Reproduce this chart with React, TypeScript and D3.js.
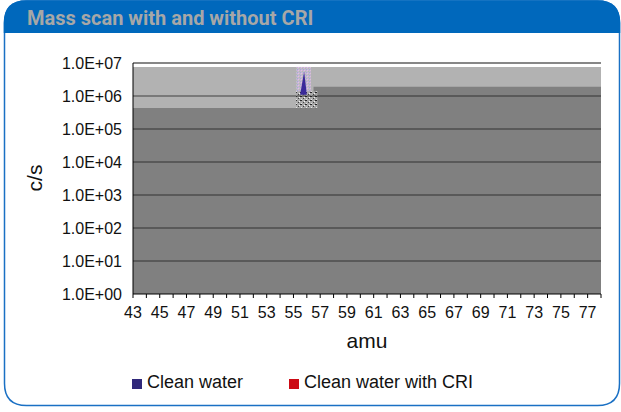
import React, { useEffect, useRef } from "react";
import * as d3 from "d3";

// x categories (amu)
const amu = [
  43, 44, 45, 46, 47, 48, 49, 50, 51, 52, 53, 54, 55, 56, 57, 58, 59, 60,
  61, 62, 63, 64, 65, 66, 67, 68, 69, 70, 71, 72, 73, 74, 75, 76, 77, 78,
];
const amuLabels = [43, 45, 47, 49, 51, 53, 55, 57, 59, 61, 63, 65, 67, 69, 71, 73, 75, 77];

// upper (light grey) level, c/s
const upperLevel = [
  7.6e6, 7.6e6, 7.6e6, 7.6e6, 7.6e6, 7.6e6, 7.6e6, 7.6e6, 7.6e6, 7.6e6, 7.6e6, 7.6e6,
  7.6e6, 7.6e6, 7.6e6, 7.6e6, 7.6e6, 7.6e6, 7.6e6, 7.6e6, 7.6e6, 7.6e6, 7.6e6, 7.6e6,
  7.6e6, 7.6e6, 7.6e6, 7.6e6, 7.6e6, 7.6e6, 7.6e6, 7.6e6, 7.6e6, 7.6e6, 7.6e6, 7.6e6,
];
// lower (dark grey) level, c/s
const lowerLevel = [
  4.3e5, 4.3e5, 4.3e5, 4.3e5, 4.3e5, 4.3e5, 4.3e5, 4.3e5, 4.3e5, 4.3e5, 4.3e5, 4.3e5,
  4.3e5, 4.3e5, 1.9e6, 1.9e6, 1.9e6, 1.9e6, 1.9e6, 1.9e6, 1.9e6, 1.9e6, 1.9e6, 1.9e6,
  1.9e6, 1.9e6, 1.9e6, 1.9e6, 1.9e6, 1.9e6, 1.9e6, 1.9e6, 1.9e6, 1.9e6, 1.9e6, 1.9e6,
];
// small clean water peak near 56 amu
const peakAmu = [55.5, 55.8, 56.0];
const peakValues = [1.1e6, 5.5e6, 1.1e6];

const yTicks = [1e0, 1e1, 1e2, 1e3, 1e4, 1e5, 1e6, 1e7];
const legendItems = ["Clean water", "Clean water with CRI"];
const legendColors = ["#30287a", "#cc0a14"];

export default function App() {
  const ref = useRef<SVGSVGElement>(null);

  useEffect(() => {
    const svg = d3.select(ref.current);
    svg.selectAll("*").remove();

    const fx0 = 4.5, fx1 = 619.5, fy0 = 1, fy1 = 405.5, r = 22, barH = 33;
    const blue = "#0068bc";
    const font = "'Liberation Sans', Arial, sans-serif";

    // frame
    svg.append("path")
      .attr("d", `M${fx0},${fy0 + r} Q${fx0},${fy0} ${fx0 + r},${fy0} L${fx1 - r},${fy0} Q${fx1},${fy0} ${fx1},${fy0 + r} L${fx1},${fy1 - r} Q${fx1},${fy1} ${fx1 - r},${fy1} L${fx0 + r},${fy1} Q${fx0},${fy1} ${fx0},${fy1 - r} Z`)
      .attr("fill", "#fff")
      .attr("stroke", "#1a70c4")
      .attr("stroke-width", 1.5);
    svg.append("path")
      .attr("d", `M${fx0 - 0.75},${barH} L${fx0 - 0.75},${fy0 + r} Q${fx0 - 0.75},${fy0 - 0.75} ${fx0 + r},${fy0 - 0.75} L${fx1 - r},${fy0 - 0.75} Q${fx1 + 0.75},${fy0 - 0.75} ${fx1 + 0.75},${fy0 + r} L${fx1 + 0.75},${barH} Z`)
      .attr("fill", blue);
    svg.append("text")
      .attr("x", 27)
      .attr("y", 25)
      .attr("font-family", "Roboto, 'Liberation Sans', sans-serif")
      .attr("font-weight", 700)
      .attr("font-size", "20px")
      .attr("fill", "#a7a7a7")
      .text("Mass scan with and without CRI");

    const left = 133, right = 601, top = 63, bottom = 294;

    const x = d3.scaleLinear().domain([amu[0], amu[amu.length - 1]]).range([left, right]);
    const y = d3.scaleLog().domain([1, 1e7]).range([bottom, top]);

    const g = svg.append("g");

    const levelArea = (vals: number[]) =>
      d3.area<number>()
        .curve(d3.curveStep)
        .x((d, i) => x(amu[i]))
        .y0(bottom)
        .y1((d) => y(d))(vals);

    g.append("path").attr("d", levelArea(upperLevel)).attr("fill", "#b2b2b2");
    g.append("path").attr("d", levelArea(lowerLevel)).attr("fill", "#808080");

    // noisy rendering around the peak
    const defs = svg.append("defs");
    const pat = defs.append("pattern")
      .attr("id", "noise")
      .attr("width", 5).attr("height", 4)
      .attr("patternUnits", "userSpaceOnUse");
    pat.append("rect").attr("width", 5).attr("height", 4).attr("fill", "#a8a8a8");
    pat.append("rect").attr("width", 2).attr("height", 1).attr("fill", "#1a1a1a");
    pat.append("rect").attr("x", 3).attr("y", 2).attr("width", 1).attr("height", 1).attr("fill", "#333");
    pat.append("rect").attr("x", 1).attr("y", 3).attr("width", 1).attr("height", 1).attr("fill", "#eee");
    pat.append("rect").attr("x", 4).attr("y", 1).attr("width", 1).attr("height", 1).attr("fill", "#fff");
    const pat2 = defs.append("pattern")
      .attr("id", "noise2")
      .attr("width", 3).attr("height", 3)
      .attr("patternUnits", "userSpaceOnUse");
    pat2.append("rect").attr("width", 3).attr("height", 3).attr("fill", "#c6b4d4");
    pat2.append("rect").attr("width", 1).attr("height", 1).attr("fill", "#a0b4cc");
    pat2.append("rect").attr("x", 1).attr("y", 1).attr("width", 1).attr("height", 1).attr("fill", "#e0c4dc");
    pat2.append("rect").attr("x", 2).attr("y", 2).attr("width", 1).attr("height", 1).attr("fill", "#b0c4a8");

    g.append("rect")
      .attr("x", x(55.2)).attr("y", y(upperLevel[12]))
      .attr("width", x(56.3) - x(55.2))
      .attr("height", y(1.2e6) - y(upperLevel[12]))
      .attr("fill", "url(#noise2)");
    g.append("rect")
      .attr("x", x(55.2)).attr("y", y(1.4e6))
      .attr("width", x(56.8) - x(55.2))
      .attr("height", y(lowerLevel[0]) - y(1.4e6))
      .attr("fill", "url(#noise)")
      .attr("opacity", 0.9);

    const peak = d3.area<number>()
      .x((d, i) => x(peakAmu[i]))
      .y0(y(peakValues[0]))
      .y1((d) => y(d));
    g.append("path").attr("d", peak(peakValues)).attr("fill", "#3a2a9a");

    // gridlines
    g.selectAll(".grid")
      .data(yTicks.slice(1))
      .enter()
      .append("line")
      .attr("x1", left).attr("x2", right)
      .attr("y1", (d) => y(d)).attr("y2", (d) => y(d))
      .attr("stroke", "#111")
      .attr("stroke-opacity", (d) => (d === 1e7 ? 1 : 0.7))
      .attr("stroke-width", 1.2);

    // y axis
    g.append("line")
      .attr("x1", left).attr("x2", left).attr("y1", top).attr("y2", bottom)
      .attr("stroke", "#000");
    g.selectAll(".ylab")
      .data(yTicks)
      .enter()
      .append("text")
      .attr("x", left - 11)
      .attr("y", (d) => y(d))
      .attr("dy", "0.36em")
      .attr("text-anchor", "end")
      .attr("font-family", font)
      .attr("font-size", "16px")
      .attr("fill", "#111")
      .text((d) => d.toExponential(1).replace("e", "E").replace(/E([+-])(\d)$/, "E$10$2"));

    // x axis
    g.append("line")
      .attr("x1", left).attr("x2", right).attr("y1", bottom).attr("y2", bottom)
      .attr("stroke", "#000");
    g.selectAll(".xtick")
      .data(amu)
      .enter()
      .append("line")
      .attr("x1", (d) => x(d)).attr("x2", (d) => x(d))
      .attr("y1", bottom).attr("y2", bottom + 4)
      .attr("stroke", "#000");
    g.selectAll(".xlab")
      .data(amuLabels)
      .enter()
      .append("text")
      .attr("x", (d) => x(d))
      .attr("y", bottom + 24)
      .attr("text-anchor", "middle")
      .attr("font-family", font)
      .attr("font-size", "16px")
      .attr("fill", "#111")
      .text((d) => String(d));

    // axis titles
    svg.append("text")
      .attr("x", (left + right) / 2)
      .attr("y", 348)
      .attr("text-anchor", "middle")
      .attr("font-family", font)
      .attr("font-size", "21px")
      .attr("fill", "#111")
      .text("amu");
    svg.append("text")
      .attr("transform", "translate(42,178) rotate(-90)")
      .attr("text-anchor", "middle")
      .attr("font-family", font)
      .attr("font-size", "21px")
      .attr("fill", "#111")
      .text("c/s");

    // legend
    const legendX = [132, 289];
    const lg = svg.selectAll(".leg")
      .data(legendItems)
      .enter()
      .append("g")
      .attr("transform", (d, i) => `translate(${legendX[i]},379)`);
    lg.append("rect")
      .attr("width", 10).attr("height", 10)
      .attr("fill", (d, i) => legendColors[i]);
    lg.append("text")
      .attr("x", 15)
      .attr("y", 9)
      .attr("font-family", font)
      .attr("font-size", "18px")
      .attr("fill", "#111")
      .text((d) => d);
  }, []);

  return (
    <div style={{ position: "absolute", left: 0, top: 0 }}>
      <svg ref={ref} width={621} height={412} style={{ display: "block" }} />
    </div>
  );
}
